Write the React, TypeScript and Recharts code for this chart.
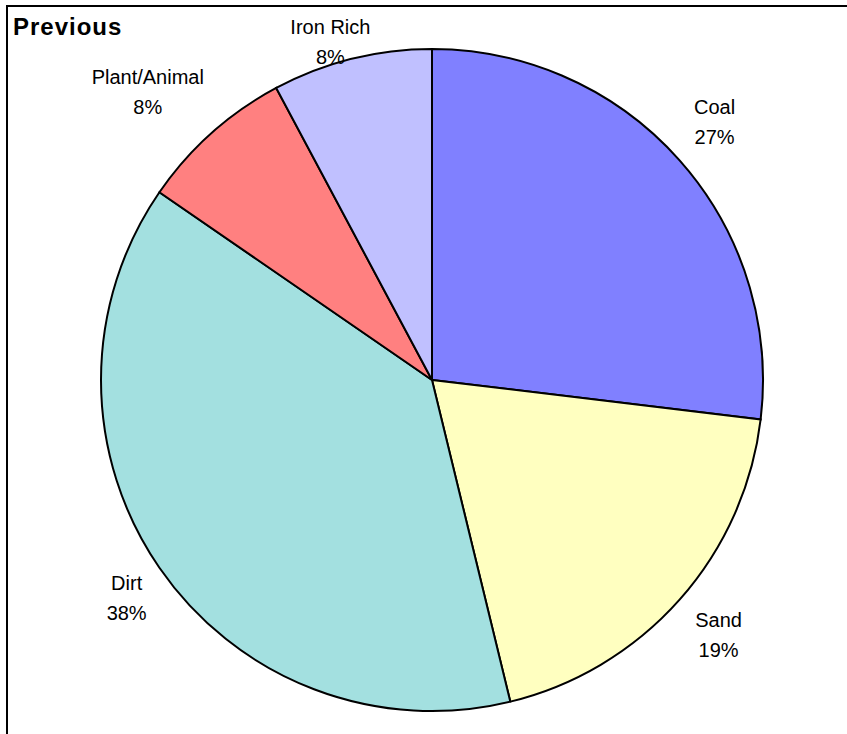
import { PieChart, Pie, Cell } from 'recharts';

const categories = ['Coal', 'Sand', 'Dirt', 'Plant/Animal', 'Iron Rich'];
const shares = [26.9, 19.3, 38.4, 7.6, 7.8];
const colors = ['#8080FF', '#FFFFC0', '#A3E0E0', '#FF8080', '#C0C0FF'];

const data = categories.map((name, i) => ({ name, value: shares[i] }));

const RADIAN = Math.PI / 180;
const FONT = '"Liberation Sans", Arial, sans-serif';

// small hand nudges so labels sit where the original placed them
const nudge: Record<string, [number, number]> = {
  Coal: [-4, -4],
  Dirt: [8, 2],
  'Plant/Animal': [-21, 6],
  'Iron Rich': [-8, 0],
};

function renderLabel(props: any) {
  const { cx, cy, midAngle, outerRadius, percent, name } = props;
  const pct = `${Math.round(percent * 100)}%`;
  const cos = Math.cos(-midAngle * RADIAN);
  const sin = Math.sin(-midAngle * RADIAN);
  // half extents of the two-line text block
  const longest = Math.max(name.length, pct.length);
  const hw = (longest * 10.5) / 2;
  const hh = 30;
  const ext = Math.min(hw / Math.max(Math.abs(cos), 0.001), hh / Math.max(Math.abs(sin), 0.001));
  const r = outerRadius + 24 + ext;
  const [nx, ny] = nudge[name] || [0, 0];
  const x = cx + r * cos + nx;
  let y = cy + r * sin + ny;
  if (y < 41.5) y = 41.5;
  return (
    <text x={x} y={y} textAnchor="middle" fontFamily={FONT} fontSize={20} fill="#000">
      <tspan x={x} y={y - 7.5}>{name}</tspan>
      <tspan x={x} y={y + 22.5}>{pct}</tspan>
    </text>
  );
}

export default function App() {
  return (
    <div style={{ position: 'absolute', left: 0, top: 0, width: 847, height: 734, background: '#fff', overflow: 'hidden' }}>
      <div
        style={{
          position: 'absolute',
          left: 6,
          top: 5,
          width: 860,
          height: 760,
          borderLeft: '2px solid #000',
          borderTop: '2px solid #000',
        }}
      />
      <div
        style={{
          position: 'absolute',
          left: 13,
          top: 13,
          fontFamily: FONT,
          fontWeight: 'bold',
          fontSize: 24,
          letterSpacing: 1,
          lineHeight: '28px',
          color: '#000',
        }}
      >
        Previous
      </div>
      <div style={{ position: 'absolute', left: 0, top: 0 }}>
        <PieChart width={847} height={734} margin={{ top: 0, right: 0, bottom: 0, left: 0 }}>
          <Pie
            data={data}
            dataKey="value"
            nameKey="name"
            cx={432}
            cy={380}
            outerRadius={331}
            startAngle={90}
            endAngle={-270}
            stroke="#000"
            strokeWidth={2}
            label={renderLabel}
            labelLine={false}
            isAnimationActive={false}
          >
            {data.map((d, i) => (
              <Cell key={d.name} fill={colors[i]} />
            ))}
          </Pie>
        </PieChart>
      </div>
    </div>
  );
}
